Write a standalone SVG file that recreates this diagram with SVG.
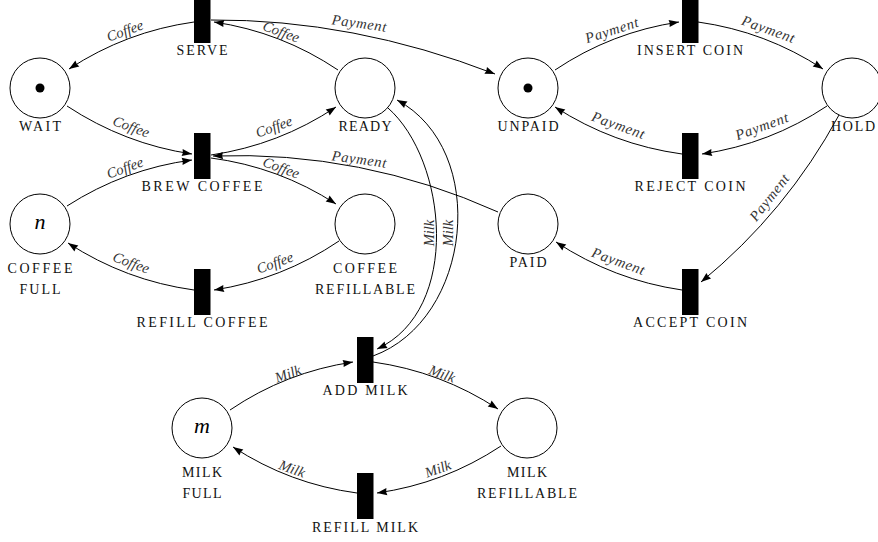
<svg xmlns="http://www.w3.org/2000/svg" width="878" height="542" viewBox="0 0 878 542">
<style>
.place{fill:#fff;stroke:#000;stroke-width:1}
.trans{fill:#000}
.lbl{font-family:"Liberation Serif",serif;font-size:14px;text-anchor:middle;fill:#111}
.tok{font-family:"Liberation Serif",serif;font-style:italic;font-size:22px;text-anchor:middle;fill:#000}
.arc{fill:none;stroke:#000;stroke-width:1;marker-end:url(#arr)}
.al{font-family:"Liberation Serif",serif;font-style:italic;font-size:14.5px;text-anchor:middle;fill:#333}
</style>
<defs>
<marker id="arr" viewBox="-11 -5 12 10" refX="0" refY="0" markerWidth="12" markerHeight="10" markerUnits="userSpaceOnUse" orient="auto">
<path d="M0,0 L-10,-3.6 Q-8.5,0 -10,3.6 Z" fill="#000"/>
</marker>
</defs>
<rect width="878" height="542" fill="#fff"/>

<g id="connectors">
<path class="arc" d="M194,22 Q126.2,31.5 69,69"/>
<path class="arc" d="M338,70 Q281.4,32 214,22"/>
<path class="arc" d="M211,20 Q353,19 495,74"/>
<path class="arc" d="M67,106 Q124.7,144 192,154"/>
<path class="arc" d="M211,155 Q278.9,145 336,107"/>
<path class="arc" d="M498,212 Q361.5,150.6 213,156"/>
<path class="arc" d="M67,206 Q124.9,168.9 192,160"/>
<path class="arc" d="M211,158 Q278.7,166.9 336,204"/>
<path class="arc" d="M339,241 Q282,279.5 214,290"/>
<path class="arc" d="M194,290 Q125.8,280.6 68,243"/>
<path class="arc" d="M555,70 Q611.6,32 679,22"/>
<path class="arc" d="M698,22 Q765.8,31.5 823,69"/>
<path class="arc" d="M827,106 Q769.9,144 702,154"/>
<path class="arc" d="M682,154 Q613.3,144.6 555,107"/>
<path class="arc" d="M839,115 Q786.5,212 701,282"/>
<path class="arc" d="M682,290 Q613.7,280 556,242"/>
<path class="arc" d="M388,108 C447,160 462,310 377,349"/>
<path class="arc" d="M373,356 C472,320 490,150 397,100"/>
<path class="arc" d="M230,410 Q286,372 353,362"/>
<path class="arc" d="M373,362 Q440.8,371.5 498,409"/>
<path class="arc" d="M501,446 Q444.3,483.5 377,493"/>
<path class="arc" d="M357,493 Q289.8,484 233,447"/>

<g id="arc-labels">
<text class="al" transform="translate(125,31) rotate(-20)" y="4.5">Coffee</text>
<text class="al" transform="translate(281,32) rotate(20)" y="4.5">Coffee</text>
<text class="al" transform="translate(359,24) rotate(8)" y="4" textLength="55" lengthAdjust="spacing">Payment</text>
<text class="al" transform="translate(131,127) rotate(20)" y="4.5">Coffee</text>
<text class="al" transform="translate(274,127) rotate(-20)" y="4.5">Coffee</text>
<text class="al" transform="translate(359,160) rotate(8)" y="4" textLength="55" lengthAdjust="spacing">Payment</text>
<text class="al" transform="translate(125,168) rotate(-20)" y="4.5">Coffee</text>
<text class="al" transform="translate(281,168) rotate(20)" y="4.5">Coffee</text>
<text class="al" transform="translate(275,263) rotate(-20)" y="4.5">Coffee</text>
<text class="al" transform="translate(131,263) rotate(20)" y="4.5">Coffee</text>
<text class="al" transform="translate(612,31) rotate(-18)" y="4" textLength="55" lengthAdjust="spacing">Payment</text>
<text class="al" transform="translate(768,30) rotate(20)" y="4" textLength="55" lengthAdjust="spacing">Payment</text>
<text class="al" transform="translate(762,127) rotate(-20)" y="4" textLength="55" lengthAdjust="spacing">Payment</text>
<text class="al" transform="translate(618,126) rotate(20)" y="4" textLength="55" lengthAdjust="spacing">Payment</text>
<text class="al" transform="translate(770,198) rotate(-52)" y="4" textLength="55" lengthAdjust="spacing">Payment</text>
<text class="al" transform="translate(618,262) rotate(20)" y="4" textLength="55" lengthAdjust="spacing">Payment</text>
<text class="al" transform="translate(429,233) rotate(-90)" y="4.5">Milk</text>
<text class="al" transform="translate(448,233) rotate(-90)" y="4.5">Milk</text>
<text class="al" transform="translate(288,374) rotate(-20)" y="4.5">Milk</text>
<text class="al" transform="translate(442,374) rotate(20)" y="4.5">Milk</text>
<text class="al" transform="translate(438,469) rotate(-20)" y="4.5">Milk</text>
<text class="al" transform="translate(292,469) rotate(20)" y="4.5">Milk</text>
</g>
</g>

<g id="wait"><circle class="place" cx="40" cy="88" r="30"/><circle cx="40" cy="88" r="4.5" fill="#000"/><text class="lbl" x="40" y="131" textLength="42" lengthAdjust="spacing">WAIT</text></g>
<g id="ready"><circle class="place" cx="365" cy="88" r="30"/><text class="lbl" x="365" y="131" textLength="53" lengthAdjust="spacing">READY</text></g>
<g id="unpaid"><circle class="place" cx="528" cy="88" r="30"/><circle cx="528" cy="88" r="4.5" fill="#000"/><text class="lbl" x="528" y="131" textLength="61" lengthAdjust="spacing">UNPAID</text></g>
<g id="hold"><circle class="place" cx="852" cy="88" r="30"/><text class="lbl" x="853" y="131" textLength="44" lengthAdjust="spacing">HOLD</text></g>
<g id="coffee-full"><circle class="place" cx="40" cy="224" r="30"/><text class="tok" x="40" y="229">n</text><text class="lbl" x="40" y="273" textLength="65" lengthAdjust="spacing">COFFEE</text><text class="lbl" x="40" y="293.5" textLength="41" lengthAdjust="spacing">FULL</text></g>
<g id="coffee-refillable"><circle class="place" cx="365" cy="224" r="30"/><text class="lbl" x="365" y="273" textLength="64" lengthAdjust="spacing">COFFEE</text><text class="lbl" x="365" y="293.5" textLength="100" lengthAdjust="spacing">REFILLABLE</text></g>
<g id="paid"><circle class="place" cx="528" cy="224" r="30"/><text class="lbl" x="528" y="267" textLength="37" lengthAdjust="spacing">PAID</text></g>
<g id="milk-full"><circle class="place" cx="202" cy="428" r="30"/><text class="tok" x="202" y="433">m</text><text class="lbl" x="202" y="477" textLength="40" lengthAdjust="spacing">MILK</text><text class="lbl" x="202" y="497.5" textLength="39" lengthAdjust="spacing">FULL</text></g>
<g id="milk-refillable"><circle class="place" cx="527" cy="428" r="30"/><text class="lbl" x="527" y="477" textLength="40" lengthAdjust="spacing">MILK</text><text class="lbl" x="527" y="497.5" textLength="100" lengthAdjust="spacing">REFILLABLE</text></g>

<g id="serve"><rect class="trans" x="194" y="-3" width="16.5" height="46"/><text class="lbl" x="202" y="55" textLength="51" lengthAdjust="spacing">SERVE</text></g>
<g id="brew-coffee"><rect class="trans" x="194" y="133" width="16.5" height="46"/><text class="lbl" x="202" y="191" textLength="121" lengthAdjust="spacing">BREW COFFEE</text></g>
<g id="refill-coffee"><rect class="trans" x="194" y="269" width="16.5" height="46"/><text class="lbl" x="202" y="327" textLength="131" lengthAdjust="spacing">REFILL COFFEE</text></g>
<g id="insert-coin"><rect class="trans" x="682" y="-3" width="16.5" height="46"/><text class="lbl" x="690" y="55" textLength="106" lengthAdjust="spacing">INSERT COIN</text></g>
<g id="reject-coin"><rect class="trans" x="682" y="133" width="16.5" height="46"/><text class="lbl" x="690" y="191" textLength="111" lengthAdjust="spacing">REJECT COIN</text></g>
<g id="accept-coin"><rect class="trans" x="682" y="269" width="16.5" height="46"/><text class="lbl" x="690" y="327" textLength="114" lengthAdjust="spacing">ACCEPT COIN</text></g>
<g id="add-milk"><rect class="trans" x="357" y="337" width="16.5" height="46"/><text class="lbl" x="365" y="395" textLength="85" lengthAdjust="spacing">ADD MILK</text></g>
<g id="refill-milk"><rect class="trans" x="357" y="473" width="16.5" height="46"/><text class="lbl" x="365" y="532" textLength="106" lengthAdjust="spacing">REFILL MILK</text></g>
</svg>
